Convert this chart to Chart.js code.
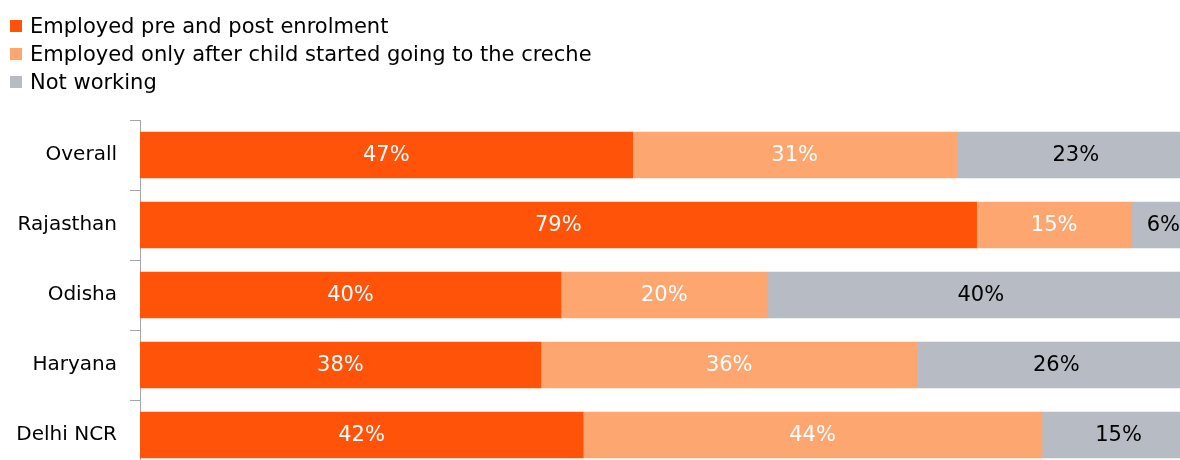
<!DOCTYPE html>
<html>
<head>
<meta charset="utf-8">
<script src="https://cdn.jsdelivr.net/npm/chart.js@4.4.0/dist/chart.umd.min.js"></script>
<style>
  html, body { margin: 0; padding: 0; overflow: hidden; background: #fff; }
  #wrap { position: relative; width: 1195px; height: 495px; }
  #legend { position: absolute; left: 10px; top: 12px; font-family: "DejaVu Sans", sans-serif; font-size: 21px; color: #000; }
  #legend .item { height: 28px; line-height: 28px; display: flex; align-items: center; }
  #legend .box { width: 12px; height: 12px; margin-right: 8px; display: inline-block; }
</style>
</head>
<body>
<div id="wrap">
  <canvas id="chart"></canvas>
  <div id="legend"></div>
</div>
<script>
// categories (top to bottom)
const regions = ["Overall", "Rajasthan", "Odisha", "Haryana", "Delhi NCR"];

// shares in percent
const employedBoth = [46.7, 79.3, 39.9, 38.0, 42.0];
const employedAfter = [30.7, 14.7, 19.6, 35.7, 43.5];
const notWorking = [22.6, 6.0, 40.4, 26.3, 14.5];

const seriesNames = [
  "Employed pre and post enrolment",
  "Employed only after child started going to the creche",
  "Not working"
];
const colors = ["#FE5308", "#FEA670", "#B7BBC3"];
const labelColors = ["#ffffff", "#ffffff", "#000000"];

const fontFamily = '"DejaVu Sans", sans-serif';

// legend as plain html, one item per line
const legendEl = document.getElementById("legend");
seriesNames.forEach((name, i) => {
  const item = document.createElement("div");
  item.className = "item";
  const box = document.createElement("span");
  box.className = "box";
  box.style.background = colors[i];
  item.appendChild(box);
  item.appendChild(document.createTextNode(name));
  legendEl.appendChild(item);
});

// percentage labels in the middle of each segment
const segmentLabels = {
  id: "segmentLabels",
  afterDatasetsDraw(chart) {
    const ctx = chart.ctx;
    ctx.save();
    ctx.font = "21px " + fontFamily;
    ctx.textAlign = "center";
    ctx.textBaseline = "middle";
    chart.data.datasets.forEach((ds, i) => {
      const meta = chart.getDatasetMeta(i);
      ctx.fillStyle = labelColors[i];
      meta.data.forEach((bar, j) => {
        const p = bar.getCenterPoint();
        ctx.fillText(Math.round(ds.data[j]) + "%", p.x, p.y + 1);
      });
    });
    ctx.restore();
  }
};

new Chart(document.getElementById("chart"), {
  type: "bar",
  data: {
    labels: regions,
    datasets: [
      { label: seriesNames[0], data: employedBoth, backgroundColor: colors[0] },
      { label: seriesNames[1], data: employedAfter, backgroundColor: colors[1] },
      { label: seriesNames[2], data: notWorking, backgroundColor: colors[2] }
    ]
  },
  options: {
    indexAxis: "y",
    responsive: true,
    maintainAspectRatio: false,
    animation: false,
    layout: { padding: { top: 120, left: 0, right: 0, bottom: 0 } },
    datasets: { bar: { barThickness: 46, borderWidth: 0 } },
    plugins: { legend: { display: false }, tooltip: { enabled: false } },
    scales: {
      x: { stacked: true, min: 0, max: 100, display: false },
      y: {
        stacked: true,
        afterFit: (scale) => { scale.width = 140; },
        grid: { drawOnChartArea: false, drawTicks: true, tickLength: 10, color: "#A6A6A6", offset: true },
        border: { display: true, color: "#A6A6A6", width: 1 },
        ticks: { color: "#000", padding: 13, font: { family: fontFamily, size: 20 } }
      }
    }
  },
  plugins: [segmentLabels]
});
</script>
</body>
</html>
